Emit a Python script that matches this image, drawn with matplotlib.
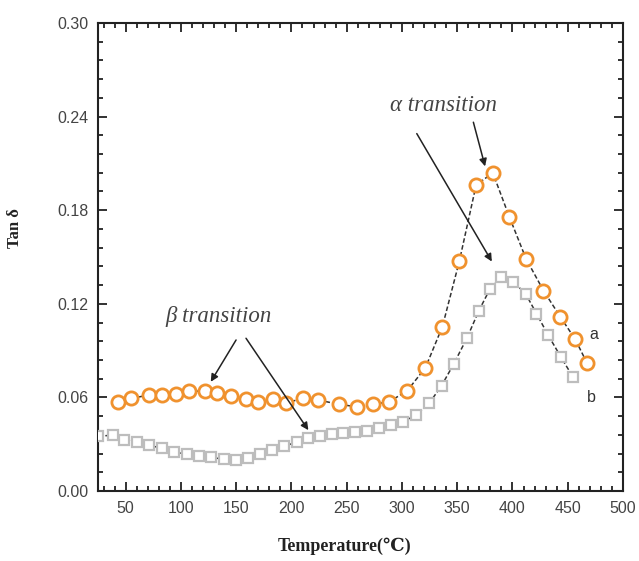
import numpy as np
import matplotlib
matplotlib.use("Agg")
import matplotlib.pyplot as plt
from matplotlib.ticker import MultipleLocator

# curve a (orange circles)
temp_a = [43.4, 54.9, 71.4, 83.2, 95.3, 107.6, 121.6, 133.0, 145.4, 158.7, 170.1,
          183.1, 195.1, 210.8, 224.4, 243.4, 259.1, 273.6, 288.6, 304.9, 321.2,
          336.6, 352.0, 367.1, 382.2, 397.2, 412.3, 428.0, 443.1, 456.7, 467.3]
tan_a = [0.0572, 0.0594, 0.0615, 0.0615, 0.0621, 0.0640, 0.0640, 0.0626, 0.0610,
         0.0591, 0.0570, 0.0587, 0.0565, 0.0594, 0.0583, 0.0555, 0.0540, 0.0555,
         0.0572, 0.0644, 0.0790, 0.1054, 0.1476, 0.1962, 0.2039, 0.1756, 0.1488,
         0.1285, 0.1118, 0.0973, 0.0822]

# curve b (grey squares)
temp_b = [25.3, 38.8, 48.8, 60.0, 71.4, 82.6, 93.8, 105.3, 116.7, 127.4, 138.8,
          149.6, 160.3, 171.3, 182.2, 193.6, 204.8, 215.3, 225.9, 236.5, 247.0,
          257.6, 268.4, 279.3, 290.2, 301.0, 312.8, 324.5, 335.9, 346.8, 358.7,
          369.6, 379.4, 389.3, 400.8, 411.9, 421.7, 432.2, 443.6, 454.6]
tan_b = [0.0351, 0.0358, 0.0330, 0.0313, 0.0294, 0.0273, 0.0251, 0.0236, 0.0224,
         0.0215, 0.0204, 0.0200, 0.0211, 0.0234, 0.0261, 0.0286, 0.0315, 0.0342,
         0.0355, 0.0364, 0.0373, 0.0379, 0.0387, 0.0401, 0.0422, 0.0445, 0.0486,
         0.0561, 0.0676, 0.0814, 0.0979, 0.1156, 0.1292, 0.1373, 0.1341, 0.1264,
         0.1137, 0.1000, 0.0861, 0.0732]

fig = plt.figure(figsize=(6.39, 5.61), dpi=100)
ax = fig.add_axes([0.1534, 0.1248, 0.8216, 0.8342])

dash = (0, (3.0, 1.6))
ax.plot(temp_b, tan_b, linestyle=dash, color="#333333", lw=1.1,
        marker="s", ms=7, mfc="white", mec="#bdbdbd", mew=1.6, zorder=3)
ax.plot(temp_a, tan_a, linestyle=dash, color="#333333", lw=1.1,
        marker="o", ms=9.5, mfc="white", mec="#f0922e", mew=2.0, zorder=4)

ax.set_xlim(25, 500)
ax.set_ylim(0.0, 0.30)
ax.xaxis.set_major_locator(MultipleLocator(50))
ax.xaxis.set_minor_locator(MultipleLocator(10))
ax.yaxis.set_major_locator(MultipleLocator(0.06))
ax.yaxis.set_minor_locator(MultipleLocator(0.012))
ax.yaxis.set_major_formatter(matplotlib.ticker.FormatStrFormatter("%.2f"))

ax.tick_params(which="both", direction="in", top=True, right=True,
               colors="#222222", labelcolor="#444444", width=1.3)
ax.tick_params(which="major", length=6.5, labelsize=11.5, pad=7)
ax.tick_params(which="minor", length=3.5)
for lab in ax.get_xticklabels() + ax.get_yticklabels():
    lab.set_family("Liberation Sans")
for sp in ax.spines.values():
    sp.set_linewidth(1.5)
    sp.set_color("#222222")

ax.set_xlabel("Temperature(\u2103)", family=["Liberation Serif", "DejaVu Serif"],
              fontweight="bold", fontsize=13, color="#222222")
ax.xaxis.set_label_coords(0.47, -0.1)
ax.set_ylabel("Tan \u03b4", family=["Liberation Serif", "DejaVu Serif"],
              fontweight="bold", fontsize=12, color="#222222")
ax.yaxis.set_label_coords(-0.142, 0.562)

# transition annotations
txt_kw = dict(family=["Liberation Serif", "DejaVu Serif"], style="italic",
              fontsize=16.5, color="#444444", ha="center", va="center")
ax.text(337.7, 0.2471, "\u03b1 transition", **txt_kw)
ax.text(134.3, 0.1118, "\u03b2 transition", **txt_kw)

arrow_kw = dict(arrowstyle="-|>", color="#222222", lw=1.1, mutation_scale=11,
                shrinkA=0, shrinkB=0)
for (x0, y0), (x1, y1) in [((364.6, 0.2364), (375.2, 0.2081)),
                           ((313.4, 0.2291), (381.3, 0.1471)),
                           ((149.9, 0.0968), (127.0, 0.0700)),
                           ((158.9, 0.0979), (215.3, 0.0390))]:
    ax.annotate("", xy=(x1, y1), xytext=(x0, y0), arrowprops=arrow_kw, zorder=5)

ax.text(473.2, 0.100, "a", family="Liberation Sans", fontsize=11.5,
        color="#333333", ha="center", va="center")
ax.text(471.8, 0.060, "b", family="Liberation Sans", fontsize=11.5,
        color="#333333", ha="center", va="center")

fig.savefig("out.png", dpi=100)
